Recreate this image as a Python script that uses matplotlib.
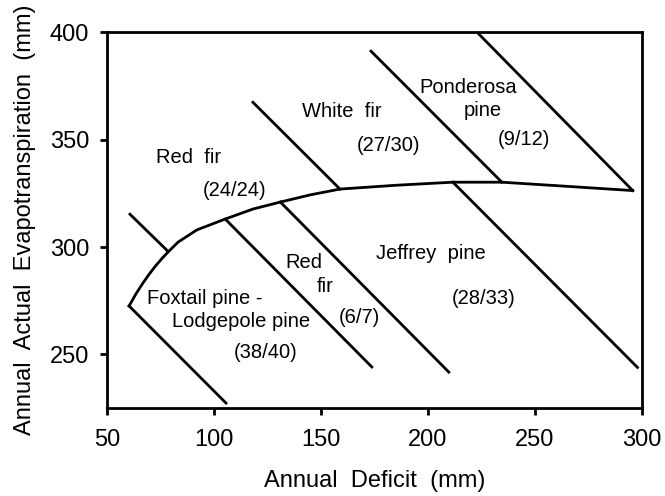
import matplotlib
matplotlib.use("Agg")
import matplotlib.pyplot as plt

plt.rcParams['font.family'] = ['Liberation Sans', 'DejaVu Sans']

# upper boundary curve (deficit, AET)
curve_x = [60.3, 63.5, 66.8, 69.7, 72.5, 75.5, 78.5, 83.2, 92.0, 105.1, 118.2, 130.8, 145.0, 158.9, 185.5, 211.7, 234.6, 263.1, 295.8]
curve_y = [272.6, 278.2, 283.3, 287.4, 291.0, 294.5, 297.7, 302.3, 308.0, 313.0, 317.7, 320.9, 324.3, 327.0, 328.8, 330.2, 330.2, 328.4, 326.3]

# diagonal zone boundaries: (x0, y0, x1, y1)
seg_x0 = [60.7, 60.3, 105.3, 131.0, 211.7, 118.2, 173.4, 223.8]
seg_y0 = [315.3, 272.6, 313.0, 321.0, 330.2, 367.4, 391.2, 399.2]
seg_x1 = [78.5, 105.6, 173.8, 209.8, 298.0, 158.9, 234.6, 295.8]
seg_y1 = [298.0, 227.4, 244.2, 241.8, 244.0, 327.0, 330.2, 326.3]

# zone labels (centre x, baseline y)
lab_text = ["Red  fir", "(24/24)", "White  fir", "(27/30)", "Ponderosa", "pine", "(9/12)",
            "Red", "fir", "(6/7)", "Foxtail pine -", "Lodgepole pine", "(38/40)",
            "Jeffrey  pine", "(28/33)"]
lab_x = [87.9, 109.8, 159.8, 181.5, 218.7, 225.7, 244.9,
           141.8, 151.9, 167.8, 95.8, 112.6, 124.3,
           201.4, 225.9]
lab_y = [339.1, 323.7, 360.5, 344.7, 371.6, 360.9, 347.4,
           290.2, 279.1, 264.7, 273.5, 262.8, 248.4,
           294.4, 273.5]

fig = plt.figure(figsize=(6.65, 4.96), dpi=100)
ax = fig.add_axes([0.161, 0.177, 0.804, 0.758])

ax.plot(curve_x, curve_y, color='black', lw=2)
for i in range(len(seg_x0)):
    ax.plot([seg_x0[i], seg_x1[i]], [seg_y0[i], seg_y1[i]], color='black', lw=2)

for t, x, y in zip(lab_text, lab_x, lab_y):
    ax.text(x, y, t, fontsize=14.5, ha='center', va='baseline')

ax.set_xlim(50, 300)
ax.set_ylim(225, 400)
ax.set_xticks([50, 100, 150, 200, 250, 300])
ax.set_yticks([250, 300, 350, 400])
ax.tick_params(direction='out', length=5, width=2, labelsize=17, top=False, right=False)
ax.tick_params(axis='x', pad=10)
ax.tick_params(axis='y', pad=8)
for s in ax.spines.values():
    s.set_linewidth(2)

ax.set_xlabel("Annual  Deficit  (mm)", fontsize=17, labelpad=14)
ax.set_ylabel("Annual  Actual  Evapotranspiration  (mm)", fontsize=17, labelpad=10)

fig.savefig("out.png", dpi=100)
